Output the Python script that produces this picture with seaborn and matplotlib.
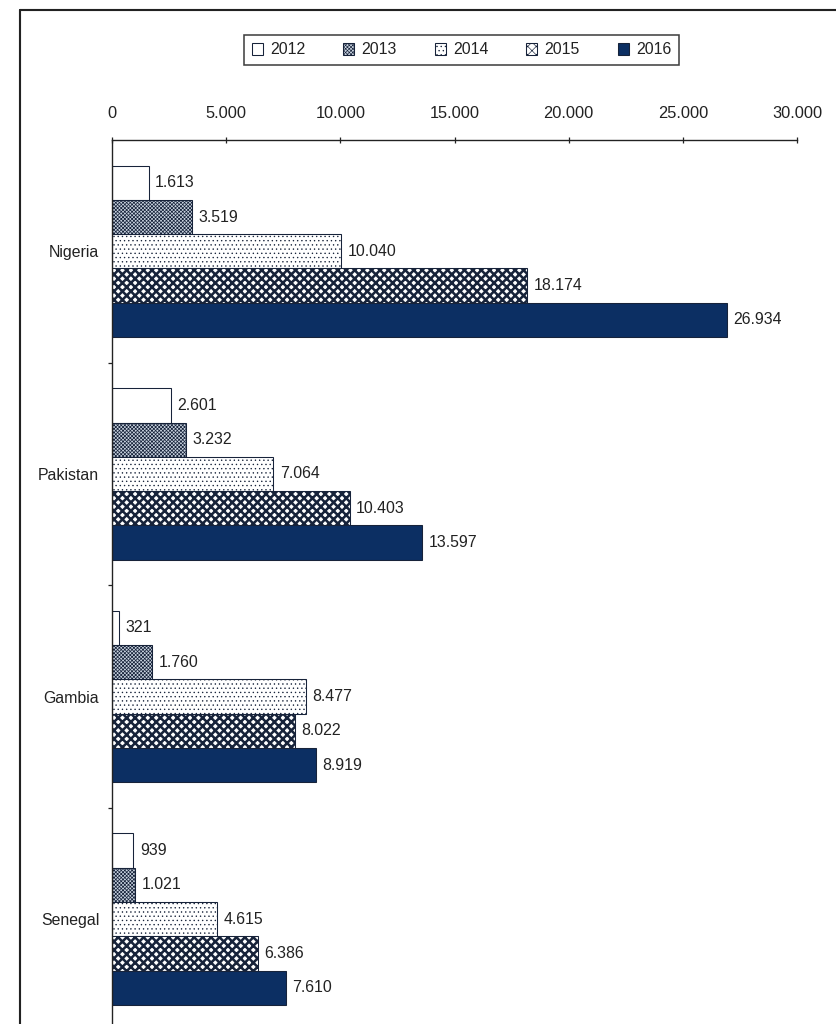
#!/usr/bin/env python3
"""Horizontal grouped bar chart: values per country, 2012-2016."""

import matplotlib

matplotlib.use("Agg")
import matplotlib.pyplot as plt
import pandas as pd
import seaborn as sns
from matplotlib.lines import Line2D
from matplotlib.ticker import FuncFormatter

COUNTRIES = ["Nigeria", "Pakistan", "Gambia", "Senegal"]
YEARS = ["2012", "2013", "2014", "2015", "2016"]
VALUES_2012 = [1613, 2601, 321, 939]
VALUES_2013 = [3519, 3232, 1760, 1021]
VALUES_2014 = [10040, 7064, 8477, 4615]
VALUES_2015 = [18174, 10403, 8022, 6386]
VALUES_2016 = [26934, 13597, 8919, 7610]
X_TICKS = [0, 5000, 10000, 15000, 20000, 25000, 30000]

NAVY = "#0c2f63"
EDGE = "#17233a"
FACES = {"2012": "#ffffff", "2013": "#c9d3e0", "2014": "#ffffff", "2015": "#ffffff", "2016": NAVY}
HATCHES = {"2012": "", "2013": "xxxxxxx", "2014": "...", "2015": "xxx", "2016": ""}
HATCH_WIDTHS = {"2012": 0.6, "2013": 0.7, "2014": 0.6, "2015": 2.4, "2016": 0.6}

DPI = 76
W, H = 836, 1024


def dotted(v, _pos=None):
    return f"{v:,.0f}".replace(",", ".")


def build_frame() -> pd.DataFrame:
    series = [VALUES_2012, VALUES_2013, VALUES_2014, VALUES_2015, VALUES_2016]
    rows = []
    for year, vals in zip(YEARS, series):
        for country, v in zip(COUNTRIES, vals):
            rows.append({"Country": country, "Year": year, "Value": v})
    return pd.DataFrame(rows)


def main() -> None:
    df = build_frame()

    sns.set_theme(style="white")
    plt.rcParams["font.family"] = ["Liberation Sans", "DejaVu Sans"]
    plt.rcParams["hatch.linewidth"] = 0.6

    fig = plt.figure(figsize=(W / DPI, H / DPI), dpi=DPI)
    # axis line sits at y=140 px, category area runs just past the bottom edge
    ax = fig.add_axes([112 / W, -6.5 / H, 685 / W, 890.5 / H])

    sns.barplot(
        data=df,
        x="Value",
        y="Country",
        hue="Year",
        order=COUNTRIES,
        hue_order=YEARS,
        palette=FACES,
        saturation=1,
        width=0.77,
        orient="h",
        edgecolor=EDGE,
        linewidth=1,
        errorbar=None,
        legend=False,
        ax=ax,
    )

    # patterns per year
    for year, cont in zip(YEARS, ax.containers):
        for bar in cont.patches:
            bar.set_hatch(HATCHES[year])
            if hasattr(bar, "set_hatch_linewidth"):
                bar.set_hatch_linewidth(HATCH_WIDTHS[year])
        ax.bar_label(cont, labels=[dotted(v) for v in cont.datavalues],
                     padding=6, fontsize=15, color="#222222")

    ax.set_xlim(0, 30000)
    ax.set_ylim(3.5, -0.5)
    ax.set_xlabel("")
    ax.set_ylabel("")

    ax.xaxis.tick_top()
    ax.set_xticks(X_TICKS)
    ax.xaxis.set_major_formatter(FuncFormatter(dotted))
    ax.tick_params(axis="x", direction="inout", length=6, width=1.2, pad=15,
                   labelsize=15.5, colors="#222222")

    ax.set_yticks(range(len(COUNTRIES)))
    ax.set_yticklabels(COUNTRIES)
    ax.set_yticks([i + 0.5 for i in range(len(COUNTRIES) - 1)], minor=True)
    ax.tick_params(axis="y", which="major", length=0, pad=12, labelsize=15,
                   colors="#222222")
    ax.tick_params(axis="y", which="minor", left=True, direction="out",
                   length=4, width=1.2, color="#222222")

    for side in ("right", "bottom"):
        ax.spines[side].set_visible(False)
    for side in ("top", "left"):
        ax.spines[side].set_color("#222222")
        ax.spines[side].set_linewidth(1.3)

    handles = [cont.patches[0] for cont in ax.containers]
    leg = fig.legend(
        handles, YEARS, loc="center",
        bbox_to_anchor=(461.5 / W, 1 - 50 / H),
        ncol=5, fontsize=15, frameon=True, fancybox=False,
        handlelength=0.7, handleheight=0.7, handletextpad=0.45,
        columnspacing=2.4, borderpad=0.5,
    )
    leg.get_frame().set_edgecolor("#111111")
    leg.get_frame().set_linewidth(1.5)
    for t in leg.get_texts():
        t.set_color("#222222")

    # outer frame (only top and left edges visible in the crop)
    fig.add_artist(Line2D([20 / W, 1], [1 - 10 / H] * 2, transform=fig.transFigure,
                          color="#222222", lw=2))
    fig.add_artist(Line2D([20 / W] * 2, [0, 1 - 10 / H], transform=fig.transFigure,
                          color="#222222", lw=2))

    fig.savefig("out.png", dpi=DPI)
    plt.close(fig)


if __name__ == "__main__":
    main()
